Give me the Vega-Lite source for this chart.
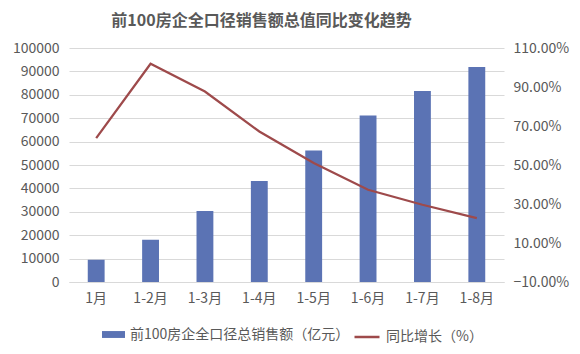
{
  "$schema": "https://vega.github.io/schema/vega-lite/v6.json",
  "autosize": {"type": "none"},
  "width": 435,
  "height": 234,
  "padding": {"left": 69, "top": 48, "right": 76, "bottom": 72},
  "background": "white",
  "title": {
    "text": "前100房企全口径销售额总值同比变化趋势",
    "fontSize": 16,
    "fontWeight": "bold",
    "color": "#595959",
    "font": "Noto Sans CJK SC",
    "anchor": "middle",
    "dx": -25,
    "offset": 12
  },
  "config": {
    "font": "Noto Sans CJK SC",
    "view": {"stroke": null},
    "axis": {"labelFont": "Noto Sans CJK SC", "labelFontSize": 14, "labelColor": "#595959", "ticks": false, "domain": false, "title": null},
    "legend": {"labelFont": "Noto Sans CJK SC", "labelFontSize": 14, "labelColor": "#595959", "labelLimit": 400, "orient": "none", "direction": "horizontal", "title": null}
  },
  "data": {
    "values": [
      {"month": "1月", "sales": 9530, "yoy": 0.638},
      {"month": "1-2月", "sales": 18080, "yoy": 1.019},
      {"month": "1-3月", "sales": 30340, "yoy": 0.877},
      {"month": "1-4月", "sales": 43160, "yoy": 0.672},
      {"month": "1-5月", "sales": 56240, "yoy": 0.51},
      {"month": "1-6月", "sales": 71200, "yoy": 0.373},
      {"month": "1-7月", "sales": 81620, "yoy": 0.296},
      {"month": "1-8月", "sales": 91880, "yoy": 0.228}
    ]
  },
  "encoding": {
    "x": {
      "field": "month",
      "type": "nominal",
      "sort": null,
      "scale": {"paddingInner": 0.69, "paddingOuter": 0.345},
      "axis": {"labelAngle": 0, "labelPadding": 9, "domain": true, "domainColor": "#D9D9D9", "grid": false}
    }
  },
  "layer": [
    {
      "mark": {"type": "bar", "color": "#5B73B4"},
      "encoding": {
        "y": {
          "field": "sales",
          "type": "quantitative",
          "scale": {"domain": [0, 100000], "nice": false},
          "axis": {"values": [0,10000,20000,30000,40000,50000,60000,70000,80000,90000,100000], "format": "d", "grid": true, "gridColor": "#D9D9D9", "labelPadding": 10}
        },
        "fill": {
          "datum": "前100房企全口径总销售额（亿元）",
          "scale": {"range": ["#5B73B4"]},
          "legend": {"symbolType": "M-1,-0.3H1V0.3H-1Z", "symbolSize": 529, "symbolStrokeWidth": 0, "labelOffset": 5, "legendX": 33, "legendY": 275}
        }
      }
    },
    {
      "mark": {"type": "line", "color": "#9E4A4B", "strokeWidth": 2.25},
      "encoding": {
        "y": {
          "field": "yoy",
          "type": "quantitative",
          "scale": {"domain": [-0.1, 1.1], "nice": false, "zero": false},
          "axis": {"orient": "right", "values": [-0.1, 0.1, 0.3, 0.5, 0.7, 0.9, 1.1], "format": ".2%", "grid": false, "labelPadding": 9}
        },
        "stroke": {
          "datum": "同比增长（%）",
          "scale": {"range": ["#9E4A4B"]},
          "legend": {"symbolType": "stroke", "symbolSize": 625, "symbolStrokeWidth": 2.5, "labelOffset": 5, "legendX": 284, "legendY": 275}
        }
      }
    }
  ],
  "resolve": {"scale": {"y": "independent"}}
}
